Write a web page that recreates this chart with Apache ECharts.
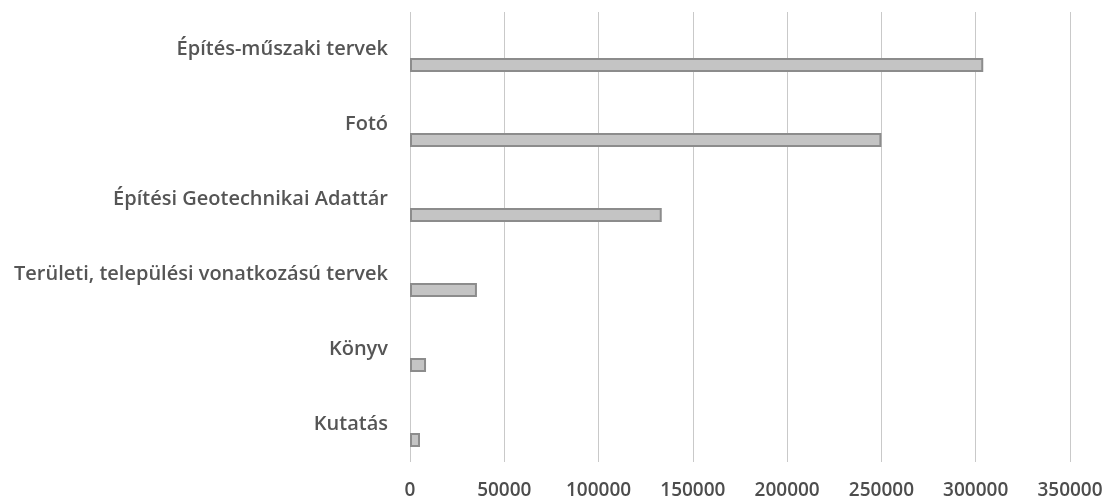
<!DOCTYPE html>
<html>
<head>
<meta charset="utf-8">
<script src="https://cdn.jsdelivr.net/npm/echarts@6/dist/echarts.min.js"></script>
<style>html,body{margin:0;padding:0;background:#fff;}#c{width:1109px;height:501px;}</style>
</head>
<body>
<div id="c"></div>
<script>
var categories = ["Építés-műszaki tervek", "Fotó", "Építési Geotechnikai Adattár", "Területi, települési vonatkozású tervek", "Könyv", "Kutatás"];
var values = [304000, 250000, 133500, 35500, 8500, 5300];
var xTicks = [0, 50000, 100000, 150000, 200000, 250000, 300000, 350000];

var chart = echarts.init(document.getElementById('c'));
chart.setOption({
  animation: false,
  backgroundColor: '#ffffff',
  grid: { left: 410, right: 39, top: 12, bottom: 39, containLabel: false },
  xAxis: {
    type: 'value', min: xTicks[0], max: xTicks[xTicks.length - 1], interval: 50000,
    axisLine: { show: false }, axisTick: { show: false },
    splitLine: { show: true, lineStyle: { color: '#c9c9c9', width: 1 } },
    axisLabel: { color: '#4d4d4d', fontFamily: 'Open Sans', fontSize: 19, fontWeight: 600, margin: 19,
      formatter: function (v) { return String(v); } }
  },
  yAxis: {
    type: 'category', data: categories, inverse: true,
    axisLine: { show: false }, axisTick: { show: false },
    axisLabel: { color: '#555555', fontFamily: 'Open Sans', fontSize: 20, fontWeight: 600, margin: 22 }
  },
  series: [
    { type: 'bar', data: categories.map(function(){ return '-'; }), barWidth: 14 },
    { type: 'bar', data: values, barWidth: 14, barGap: '120%',
      itemStyle: { color: '#c4c4c4', borderColor: '#8c8c8c', borderWidth: 2 } }
  ]
});
</script>
</body>
</html>
